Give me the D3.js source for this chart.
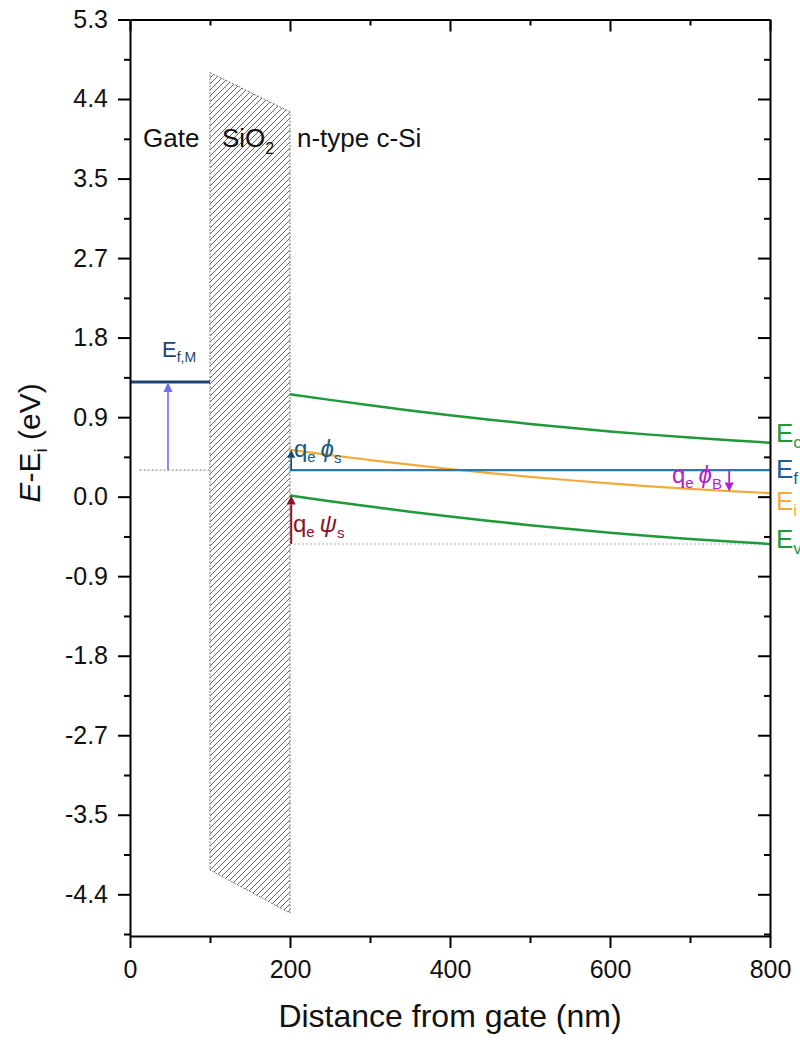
<!DOCTYPE html>
<html>
<head>
<meta charset="utf-8">
<script src="https://cdn.jsdelivr.net/npm/d3@7"></script>
<style>
  html, body { margin: 0; padding: 0; background: #fff; }
  svg { display: block; font-family: "Liberation Sans", Arial, Helvetica, sans-serif; }
</style>
</head>
<body>
<svg id="chart" width="800" height="1040"></svg>
<script>
// ---- axis ticks ----
const xMajorTicks = [0, 200, 400, 600, 800];
const xMinorTicks = [100, 300, 500, 700];
const yMajorTicks = [5.3, 4.417, 3.533, 2.65, 1.767, 0.883, 0, -0.883, -1.767, -2.65, -3.533, -4.417];
const yTickLabels = ["5.3", "4.4", "3.5", "2.7", "1.8", "0.9", "0.0", "-0.9", "-1.8", "-2.7", "-3.5", "-4.4"];
const yMinorTicks = [4.858, 3.975, 3.092, 2.208, 1.325, 0.442, -0.442, -1.325, -2.208, -3.092, -3.975, -4.858];

// ---- band diagram in the silicon (distance in nm, energy in eV) ----
const distance = [200, 250, 300, 350, 400, 450, 500, 550, 600, 650, 700, 750, 800];
const conductionBand = [1.138, 1.075, 1.015, 0.958, 0.905, 0.855, 0.808, 0.765, 0.725, 0.689, 0.656, 0.626, 0.600];
const intrinsicLevel = [0.52, 0.461, 0.407, 0.355, 0.307, 0.262, 0.220, 0.182, 0.147, 0.115, 0.087, 0.062, 0.040];
const valenceBand = [0.013, -0.050, -0.110, -0.167, -0.220, -0.270, -0.317, -0.360, -0.400, -0.436, -0.469, -0.499, -0.525];
const fermiLevel = 0.294;
const fermiSpan = [200, 800];

// ---- gate metal Fermi level ----
const gateSpan = [0, 100];
const gateFermiLevel = 1.274;

// ---- oxide layer outline ----
const oxideX = [100, 200, 200, 100];
const oxideE = [4.71, 4.276, -4.625, -4.148];

// ---- arrows: [x, from, to] ----
const arrowGate = [47.5, 0.294, 1.274];
const arrowPhiS = [201.5, 0.294, 0.52];
const arrowPsiS = [201.5, -0.525, 0.013];
const arrowPhiB = [749, 0.294, 0.058];

const svg = d3.select("#chart");
const W = 800, H = 1040;
const margin = { left: 130, right: 30, top: 19.5, bottom: 104 };
const x = d3.scaleLinear().domain([0, 800]).range([margin.left, W - margin.right]);
const y = d3.scaleLinear().domain([-4.88, 5.3]).range([H - margin.bottom, margin.top]);

const green = "#1f9a38", blue = "#2a79b6", orange = "#f2aa3a", navy = "#1c4470";

// hatch pattern for the oxide
const defs = svg.append("defs");
const pat = defs.append("pattern")
  .attr("id", "hatch").attr("patternUnits", "userSpaceOnUse")
  .attr("width", 6).attr("height", 6);
pat.append("path")
  .attr("d", "M-1,1 l2,-2 M0,6 l6,-6 M5,7 l2,-2")
  .attr("stroke", "#484848").attr("stroke-width", 0.85);

const oxidePts = oxideX.map((d, i) => [x(d), y(oxideE[i])]);
svg.append("path")
  .attr("d", "M" + oxidePts.map(p => p.join(",")).join("L") + "Z")
  .attr("fill", "url(#hatch)")
  .attr("stroke", "#777").attr("stroke-width", 1)
  .attr("stroke-dasharray", "2,1.5");

// guide lines
svg.append("line")
  .attr("x1", x(12)).attr("x2", x(100))
  .attr("y1", y(fermiLevel)).attr("y2", y(fermiLevel))
  .attr("stroke", "#999").attr("stroke-width", 1.2).attr("stroke-dasharray", "2,2");
svg.append("line")
  .attr("x1", x(200)).attr("x2", x(800))
  .attr("y1", y(valenceBand[valenceBand.length - 1])).attr("y2", y(valenceBand[valenceBand.length - 1]))
  .attr("stroke", "#c8cfc8").attr("stroke-width", 1.5).attr("stroke-dasharray", "2,2");

// band curves
const line = d3.line().x((d, i) => x(distance[i])).y(d => y(d)).curve(d3.curveMonotoneX);
svg.append("path").attr("d", line(conductionBand)).attr("fill", "none").attr("stroke", green).attr("stroke-width", 2.5);
svg.append("path").attr("d", line(valenceBand)).attr("fill", "none").attr("stroke", green).attr("stroke-width", 2.5);
svg.append("path").attr("d", line(intrinsicLevel)).attr("fill", "none").attr("stroke", orange).attr("stroke-width", 2.2);
svg.append("line")
  .attr("x1", x(fermiSpan[0])).attr("x2", x(fermiSpan[1]))
  .attr("y1", y(fermiLevel)).attr("y2", y(fermiLevel))
  .attr("stroke", blue).attr("stroke-width", 2.2);
svg.append("line")
  .attr("x1", x(gateSpan[0])).attr("x2", x(gateSpan[1]))
  .attr("y1", y(gateFermiLevel)).attr("y2", y(gateFermiLevel))
  .attr("stroke", navy).attr("stroke-width", 3);

// arrows
function arrow(a, color, width, headLen, headHalf) {
  const ax = x(a[0]), y0 = y(a[1]), y1 = y(a[2]);
  const dir = y1 < y0 ? 1 : -1; // 1 = pointing up
  const baseY = y1 + dir * headLen;
  svg.append("line")
    .attr("x1", ax).attr("x2", ax).attr("y1", y0).attr("y2", baseY)
    .attr("stroke", color).attr("stroke-width", width);
  svg.append("path")
    .attr("d", `M${ax},${y1}L${ax - headHalf},${baseY}L${ax + headHalf},${baseY}Z`)
    .attr("fill", color);
}
arrow(arrowGate, "#6f6ff5", 1.6, 10, 4.5);
arrow(arrowPhiS, "#0f4d70", 1.6, 8, 4);
arrow(arrowPsiS, "#8a1326", 2, 9, 4.5);
arrow(arrowPhiB, "#b41ed0", 1.8, 9, 4.5);

// axes
const plot = { l: x(0), r: x(800), t: y(5.3), b: y(-4.88) };
function styleAxis(g) {
  g.selectAll("path").attr("stroke", "#000").attr("stroke-width", 2);
  g.selectAll("line").attr("stroke", "#000").attr("stroke-width", 2);
  g.selectAll("text").attr("fill", "#111").style("font-size", "25px")
    .style("font-family", '"Liberation Sans", Arial, sans-serif');
}
const fmtY = d => yTickLabels[yMajorTicks.indexOf(d)];

svg.append("g").attr("transform", `translate(${plot.l},0)`)
  .call(d3.axisLeft(y).tickValues(yMajorTicks).tickFormat(fmtY).tickSize(12).tickPadding(10).tickSizeOuter(0))
  .call(styleAxis);
svg.append("g").attr("transform", `translate(${plot.l},0)`)
  .call(d3.axisLeft(y).tickValues(yMinorTicks).tickFormat("").tickSize(6).tickSizeOuter(0))
  .call(styleAxis).call(g => g.select(".domain").remove());

svg.append("g").attr("transform", `translate(${plot.r},0)`)
  .call(d3.axisLeft(y).tickValues(yMajorTicks).tickFormat("").tickSize(12).tickSizeOuter(0))
  .call(styleAxis);
svg.append("g").attr("transform", `translate(${plot.r},0)`)
  .call(d3.axisLeft(y).tickValues(yMinorTicks).tickFormat("").tickSize(6).tickSizeOuter(0))
  .call(styleAxis).call(g => g.select(".domain").remove());

svg.append("g").attr("transform", `translate(0,${plot.b})`)
  .call(d3.axisBottom(x).tickValues(xMajorTicks).tickFormat(d3.format("d")).tickSize(12).tickPadding(12).tickSizeOuter(0))
  .call(styleAxis);
svg.append("g").attr("transform", `translate(0,${plot.b})`)
  .call(d3.axisBottom(x).tickValues(xMinorTicks).tickFormat("").tickSize(7).tickSizeOuter(0))
  .call(styleAxis).call(g => g.select(".domain").remove());

svg.append("g").attr("transform", `translate(0,${plot.t})`)
  .call(d3.axisBottom(x).tickValues(xMajorTicks).tickFormat("").tickSize(12).tickSizeOuter(0))
  .call(styleAxis);
svg.append("g").attr("transform", `translate(0,${plot.t})`)
  .call(d3.axisBottom(x).tickValues(xMinorTicks).tickFormat("").tickSize(6).tickSizeOuter(0))
  .call(styleAxis).call(g => g.select(".domain").remove());

// axis titles
svg.append("text")
  .attr("x", (plot.l + plot.r) / 2).attr("y", 1027)
  .attr("text-anchor", "middle").style("font-size", "32px").attr("fill", "#111")
  .text("Distance from gate (nm)");

const yt = svg.append("text")
  .attr("transform", "translate(40,443) rotate(-90)")
  .attr("text-anchor", "middle").style("font-size", "30px").attr("fill", "#111");
yt.append("tspan").style("font-style", "italic").text("E");
yt.append("tspan").text("-E");
yt.append("tspan").attr("dy", 7).style("font-size", "19px").text("i");
yt.append("tspan").attr("dy", -7).text(" (eV)");

// region labels
function label(px, py, size, color, parts) {
  const t = svg.append("text").attr("x", px).attr("y", py)
    .style("font-size", size + "px").attr("fill", color);
  let shift = 0;
  parts.forEach(p => {
    const s = t.append("tspan").text(p.t);
    const target = p.sub ? p.sub : 0;
    s.attr("dy", target - shift);
    shift = target;
    if (p.size) s.style("font-size", p.size + "px");
    if (p.italic) s.style("font-style", "italic");
  });
  return t;
}
label(143, 147, 26, "#111", [{ t: "Gate" }]);
label(222, 147, 26, "#111", [{ t: "SiO" }, { t: "2", sub: 7, size: 16 }]);
label(297, 147, 26, "#111", [{ t: "n-type c-Si" }]);

label(162, 357, 22, navy, [{ t: "E" }, { t: "f,M", sub: 5, size: 14 }]);

label(294, 457, 24, "#135a86", [{ t: "q" }, { t: "e", sub: 5, size: 15 }, { t: "\u2009" }, { t: "\u03d5", italic: true }, { t: "s", sub: 6, size: 15 }]);
label(293, 532, 24, "#8a1326", [{ t: "q" }, { t: "e", sub: 5, size: 15 }, { t: "\u2009" }, { t: "\u03c8", italic: true }, { t: "s", sub: 6, size: 15 }]);
label(672, 483, 24, "#b41ed0", [{ t: "q" }, { t: "e", sub: 5, size: 15 }, { t: "\u2009" }, { t: "\u03d5", italic: true }, { t: "B", sub: 6, size: 15 }]);

// band labels at the right edge
label(776, 442, 26, green, [{ t: "E" }, { t: "c", sub: 6, size: 17 }]);
label(776, 478, 26, "#1f5c99", [{ t: "E" }, { t: "f", sub: 6, size: 17 }]);
label(776, 510, 26, orange, [{ t: "E" }, { t: "i", sub: 6, size: 17 }]);
label(776, 548, 26, green, [{ t: "E" }, { t: "v", sub: 6, size: 17 }]);
</script>
</body>
</html>
